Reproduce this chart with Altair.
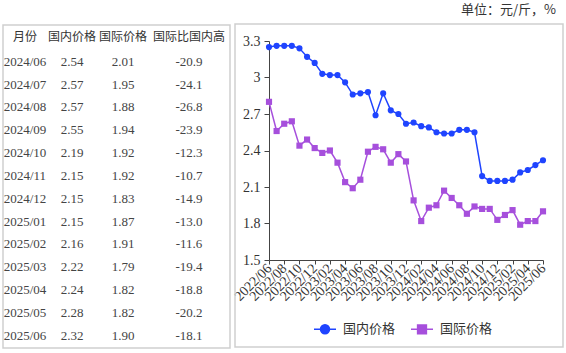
import altair as alt
import pandas as pd

# ---------------- data ----------------
months = [
    "2022/06", "2022/07", "2022/08", "2022/09", "2022/10", "2022/11", "2022/12",
    "2023/01", "2023/02", "2023/03", "2023/04", "2023/05", "2023/06", "2023/07",
    "2023/08", "2023/09", "2023/10", "2023/11", "2023/12",
    "2024/01", "2024/02", "2024/03", "2024/04", "2024/05", "2024/06", "2024/07",
    "2024/08", "2024/09", "2024/10", "2024/11", "2024/12",
    "2025/01", "2025/02", "2025/03", "2025/04", "2025/05", "2025/06",
]
domestic = [
    3.25, 3.26, 3.26, 3.26, 3.24, 3.17, 3.12,
    3.03, 3.02, 3.02, 2.96, 2.86, 2.87, 2.88, 2.69, 2.87, 2.73, 2.70, 2.62,
    2.63, 2.60, 2.59, 2.55, 2.54, 2.54, 2.57, 2.57, 2.55, 2.19, 2.15, 2.15,
    2.15, 2.16, 2.22, 2.24, 2.28, 2.32,
]
international = [
    2.80, 2.56, 2.62, 2.64, 2.44, 2.49, 2.42,
    2.38, 2.40, 2.30, 2.14, 2.09, 2.16, 2.39, 2.43, 2.41, 2.30, 2.37, 2.31,
    1.99, 1.82, 1.93, 1.95, 2.07, 2.01, 1.95, 1.88, 1.94, 1.92, 1.92, 1.83,
    1.87, 1.91, 1.79, 1.82, 1.82, 1.90,
]
ratio = [-20.9, -24.1, -26.8, -23.9, -12.3, -10.7, -14.9, -13.0, -11.6, -19.4, -18.8, -20.2, -18.1]
table_header = ["月份", "国内价格", "国际价格", "国际比国内高"]
series_names = ["国内价格", "国际价格"]
series_colors = ["#1f44ff", "#a64fdc"]
y_ticks = [1.5, 1.8, 2.1, 2.4, 2.7, 3.0, 3.3]
unit_label = "单位：元/斤，%"

SERIF = "'Liberation Serif', 'Times New Roman', Times, serif"
CJK = "'Noto Sans CJK SC', sans-serif"

# ---------------- tables for the library ----------------
line_df = pd.concat([
    pd.DataFrame({"month": months, "value": domestic, "series": series_names[0]}),
    pd.DataFrame({"month": months, "value": international, "series": series_names[1]}),
], ignore_index=True)

n_rows = len(ratio)
t_months = months[-n_rows:]
t_dom = domestic[-n_rows:]
t_int = international[-n_rows:]
header_df = pd.DataFrame({"col": list(range(4)), "row": [0] * 4, "text": table_header})
body_records = []
for i in range(n_rows):
    cells = [t_months[i], f"{t_dom[i]:.2f}", f"{t_int[i]:.2f}", f"{ratio[i]:.1f}"]
    for c, txt in enumerate(cells):
        body_records.append({"col": c, "row": i + 1, "text": txt})
body_df = pd.DataFrame(body_records)

# ---------------- table ----------------
tx = alt.X("col:Q", scale=alt.Scale(domain=[0, 1, 2, 3], range=[-244, -197, -146, -80]), axis=None)
ty = alt.Y("row:Q", scale=alt.Scale(domain=[0, 1, n_rows], range=[-4.3, 20.7, 294.7]), axis=None)

table_head = alt.Chart(header_df).mark_text(
    font=CJK, fontSize=12, color="#333", align="center", baseline="middle"
).encode(x=tx, y=ty, text="text:N")
table_body = alt.Chart(body_df).mark_text(
    font=SERIF, fontSize=13, color="#444", align="center", baseline="middle"
).encode(x=tx, y=ty, text="text:N")
table_layer = alt.layer(table_head, table_body)

# ---------------- frames ----------------
one = pd.DataFrame({"k": [0]})
table_frame = alt.Chart(one).mark_rect(fill="transparent", stroke="#cfcfcf", strokeWidth=1.5).encode(
    x=alt.value(-266), x2=alt.value(-39), y=alt.value(-16), y2=alt.value(307)
)
chart_frame = alt.Chart(one).mark_rect(fill="transparent", stroke="#cfcfcf", strokeWidth=1.5).encode(
    x=alt.value(-34), x2=alt.value(294), y=alt.value(-17), y2=alt.value(306)
)

# ---------------- line chart ----------------
base = alt.Chart(line_df).encode(
    x=alt.X("month:O", sort=months,
            scale=alt.Scale(type="point", domain=months, padding=0),
            axis=alt.Axis(values=months[::2], labelAngle=315, labelAlign="right",
                          labelBaseline="middle", labelOverlap=False, tickSize=4,
                          labelPadding=2, labelFontSize=14),
            title=None),
    y=alt.Y("value:Q", scale=alt.Scale(domain=[1.5, 3.3], nice=False, zero=False),
            axis=alt.Axis(values=y_ticks, format="~g", tickSize=5, labelPadding=4, labelFontSize=14),
            title=None),
    color=alt.Color("series:N", scale=alt.Scale(domain=series_names, range=series_colors), legend=None),
)
lines = base.mark_line(strokeWidth=1.5)
points = base.mark_point(filled=True, size=38, opacity=1).encode(
    shape=alt.Shape("series:N", scale=alt.Scale(domain=series_names, range=["circle", "square"]), legend=None)
)
chart_layer = alt.layer(lines, points)

# ---------------- legend ----------------
leg_paths = [
    "M-1,0H-0.41A0.41,0.41,0,1,1,0.41,0H1M0.41,0A0.41,0.41,0,1,1,-0.41,0",
    "M-1,0H1M-0.4,-0.4H0.4V0.4H-0.4Z",
]
leg = alt.Legend(title=None, orient="none", legendX=44, legendY=276, direction="horizontal",
                 labelFont=CJK, labelFontSize=13, labelColor="#333",
                 labelOffset=6, columnPadding=12, symbolSize=484, symbolStrokeWidth=1.5,
                 padding=0)
legend_layer = alt.Chart(line_df).transform_filter("false").mark_point(
    filled=True, size=484, strokeWidth=1.5, opacity=1
).encode(
    fill=alt.Fill("series:N", scale=alt.Scale(domain=series_names, range=series_colors), legend=leg),
    stroke=alt.Stroke("series:N", scale=alt.Scale(domain=series_names, range=series_colors), legend=leg),
    shape=alt.Shape("series:N", scale=alt.Scale(domain=series_names, range=leg_paths), legend=leg),
)

# ---------------- unit label ----------------
unit_text = alt.Chart(pd.DataFrame({"t": [unit_label]})).mark_text(
    font=CJK, fontSize=13, color="#333", align="right", baseline="middle"
).encode(text="t:N", x=alt.value(287), y=alt.value(-31))

chart = alt.layer(
    table_frame, chart_frame, table_layer, chart_layer, legend_layer, unit_text
).resolve_scale(
    x="independent", y="independent", color="independent", shape="independent",
    fill="independent", stroke="independent"
).properties(
    width=274, height=219,
    autosize=alt.AutoSizeParams(type="none"),
    padding={"left": 269, "top": 41, "right": 23, "bottom": 93},
    background="white",
).configure_view(
    stroke="transparent"
).configure_axis(
    labelFont=SERIF, labelColor="#333",
    domainColor="#444", tickColor="#444", grid=False,
)

chart.save("out.html", embed_options={"renderer": "svg", "actions": False})
